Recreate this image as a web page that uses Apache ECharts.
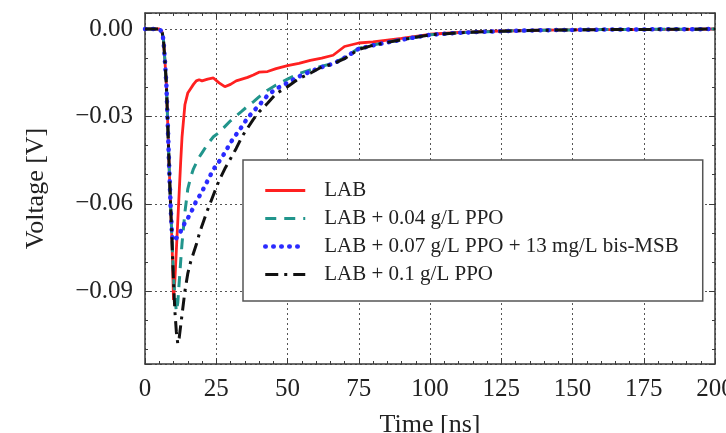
<!DOCTYPE html>
<html>
<head>
<meta charset="utf-8">
<script src="https://cdn.jsdelivr.net/npm/echarts@6/dist/echarts.min.js"></script>
<style>
html,body{margin:0;padding:0;background:#fff;}
#chart{width:726px;height:433px;}
</style>
</head>
<body>
<div id="chart"></div>
<script>
// Time axis (ns)
const timeNs = [0, 2, 4, 5, 6, 6.5, 7, 7.5, 8, 8.5, 9, 9.5, 10, 10.5, 11, 11.5, 12, 12.5, 13, 14,
  15, 16, 17, 18, 19, 20, 22, 24, 26, 28, 30, 32, 34, 36, 38, 40, 43, 46, 50, 54,
  58, 62, 66, 70, 75, 80, 85, 90, 95, 100, 110, 120, 130, 140, 150, 160, 170, 180, 190, 200];

// Voltage (V)
const labV = [0, 0, 0, 0, -0.001, -0.004, -0.011, -0.019, -0.033, -0.048,
  -0.061, -0.074, -0.093, -0.086, -0.076, -0.066, -0.056, -0.046, -0.037, -0.026,
  -0.022, -0.0205, -0.019, -0.0178, -0.0174, -0.0178, -0.0172, -0.0168, -0.0185, -0.0198,
  -0.019, -0.0178, -0.0172, -0.0166, -0.0158, -0.0148, -0.0146, -0.0136, -0.0126, -0.0118,
  -0.0108, -0.0100, -0.0090, -0.0060, -0.0048, -0.0044, -0.0038, -0.0032, -0.0025, -0.0018,
  -0.0012, -0.0008, -0.0006, -0.0004, -0.0003, -0.0002, -0.0002, -0.0001, -0.0001, 0];

const ppo004V = [0, 0, 0, 0, -0.001, -0.004, -0.011, -0.019, -0.033, -0.048,
  -0.061, -0.073, -0.085, -0.092, -0.097, -0.094, -0.087, -0.080, -0.0735, -0.063,
  -0.055, -0.051, -0.048, -0.046, -0.044, -0.0425, -0.0395, -0.037, -0.0355, -0.0335,
  -0.0315, -0.0298, -0.0282, -0.0265, -0.025, -0.0233, -0.021, -0.0192, -0.0172, -0.0153,
  -0.0140, -0.0128, -0.0118, -0.0098, -0.0066, -0.0055, -0.0045, -0.0037, -0.0028, -0.0020,
  -0.0013, -0.0009, -0.0006, -0.0004, -0.0003, -0.0002, -0.0002, -0.0001, -0.0001, 0];

const ppo007MsbV = [0, 0, 0, 0, -0.001, -0.004, -0.011, -0.019, -0.033, -0.048,
  -0.061, -0.071, -0.0728, -0.0725, -0.0718, -0.0712, -0.0705, -0.0695, -0.0685, -0.0665,
  -0.065, -0.0632, -0.0612, -0.059, -0.0575, -0.0558, -0.052, -0.0482, -0.0455, -0.0425,
  -0.039, -0.0362, -0.0335, -0.0305, -0.0283, -0.0262, -0.0228, -0.0205, -0.0185, -0.0163,
  -0.0146, -0.0131, -0.0119, -0.0099, -0.0068, -0.0056, -0.0046, -0.0037, -0.0028, -0.0020,
  -0.0013, -0.0009, -0.0006, -0.0004, -0.0003, -0.0002, -0.0002, -0.0001, -0.0001, 0];

const ppo01V = [0, 0, 0, 0, -0.001, -0.004, -0.011, -0.019, -0.033, -0.048,
  -0.061, -0.073, -0.087, -0.097, -0.104, -0.108, -0.106, -0.102, -0.098, -0.090,
  -0.084, -0.080, -0.077, -0.074, -0.0705, -0.0675, -0.062, -0.057, -0.052, -0.048,
  -0.0445, -0.041, -0.037, -0.034, -0.031, -0.0285, -0.0255, -0.0222, -0.0198, -0.017,
  -0.0152, -0.013, -0.012, -0.0102, -0.007, -0.0056, -0.0046, -0.0037, -0.0028, -0.002,
  -0.0013, -0.0009, -0.0006, -0.0004, -0.0003, -0.0002, -0.0002, -0.0001, -0.0001, 0];

const seriesNames = ['LAB', 'LAB + 0.04 g/L PPO', 'LAB + 0.07 g/L PPO + 13 mg/L bis-MSB', 'LAB + 0.1 g/L PPO'];
const xTicks = [0, 25, 50, 75, 100, 125, 150, 175, 200];
const yTicks = [0, -0.03, -0.06, -0.09];

const FONT = '"Liberation Serif", "DejaVu Serif", serif';
const TXT = '#222';
const FRAME = '#3a3a3a';

function pairs(vals) { return timeNs.map((t, i) => [t, vals[i]]); }

const gridLine = { show: true, lineStyle: { color: '#555', type: [2, 3], width: 1 } };
const frameLine = { show: true, onZero: false, lineStyle: { color: FRAME, width: 1.5 } };
const majTick = { show: true, inside: true, length: 6, lineStyle: { color: FRAME, width: 1 } };

function yFmt(v) {
  const r = Math.round(v / 0.03);
  if (Math.abs(v - r * 0.03) > 1e-6) return '';
  if (r === 0) return '0.00';
  return '\u2212' + Math.abs(r * 0.03).toFixed(2);
}

const chart = echarts.init(document.getElementById('chart'), null, { renderer: 'canvas' });
chart.setOption({
  backgroundColor: '#fff',
  animation: false,
  textStyle: { fontFamily: FONT },
  grid: { left: 145, right: 11, top: 13, bottom: 69, containLabel: false, outerBoundsMode: 'none' },
  xAxis: [{
    type: 'value', min: xTicks[0], max: xTicks[xTicks.length - 1], interval: 25,
    position: 'bottom',
    name: 'Time [ns]', nameLocation: 'middle', nameGap: 48,
    nameTextStyle: { fontFamily: FONT, fontSize: 26, color: TXT },
    axisLine: frameLine, axisTick: majTick,
    minorTick: { show: true, splitNumber: 5, length: 3, lineStyle: { color: FRAME } },
    axisLabel: { fontFamily: FONT, fontSize: 25, color: TXT, margin: 13 },
    splitLine: gridLine
  }, {
    type: 'value', min: 0, max: 200, interval: 25, position: 'top',
    axisLine: frameLine, axisTick: majTick,
    minorTick: { show: true, splitNumber: 5, length: 3, lineStyle: { color: FRAME } },
    axisLabel: { show: false }, splitLine: { show: false }
  }],
  yAxis: [{
    type: 'value', min: -0.115, max: 0.0055, minInterval: 0.03, maxInterval: 0.03,
    position: 'left',
    name: 'Voltage [V]', nameLocation: 'middle', nameGap: 96, nameRotate: 90,
    nameTextStyle: { fontFamily: FONT, fontSize: 26, color: TXT },
    axisLine: frameLine, axisTick: majTick,
    minorTick: { show: true, splitNumber: 3, length: 3, lineStyle: { color: FRAME } },
    axisLabel: { fontFamily: FONT, fontSize: 25, color: TXT, margin: 12, showMinLabel: false, showMaxLabel: false, formatter: yFmt },
    splitLine: gridLine
  }, {
    type: 'value', min: -0.115, max: 0.0055, minInterval: 0.03, maxInterval: 0.03,
    position: 'right',
    axisLine: frameLine, axisTick: majTick,
    minorTick: { show: true, splitNumber: 3, length: 3, lineStyle: { color: FRAME } },
    axisLabel: { show: false }, splitLine: { show: false }
  }],
  legend: {
    orient: 'vertical', left: 243, top: 160,
    padding: [20, 24, 16, 20],
    itemWidth: 40, itemHeight: 14, itemGap: 7,
    itemStyle: { opacity: 0 },
    lineStyle: { width: 'inherit' },
    backgroundColor: '#fff', borderColor: '#555', borderWidth: 1.5, borderRadius: 0,
    textStyle: { fontFamily: FONT, fontSize: 21, color: TXT, padding: [0, 0, 0, 14] },
    data: seriesNames
  },
  series: [
    { name: seriesNames[0], type: 'line', data: pairs(labV), symbol: 'none', showSymbol: false,
      lineStyle: { color: '#ff2020', width: 2.8, type: 'solid' }, itemStyle: { color: '#ff2020' } },
    { name: seriesNames[1], type: 'line', data: pairs(ppo004V), symbol: 'none', showSymbol: false,
      lineStyle: { color: '#21958c', width: 3, type: [11, 8] }, itemStyle: { color: '#21958c' } },
    { name: seriesNames[2], type: 'line', data: pairs(ppo007MsbV), symbol: 'none', showSymbol: false,
      lineStyle: { color: '#2a2aff', width: 4.5, type: [0.5, 7.5], cap: 'round' }, itemStyle: { color: '#2a2aff' } },
    { name: seriesNames[3], type: 'line', data: pairs(ppo01V), symbol: 'none', showSymbol: false,
      lineStyle: { color: '#111', width: 3, type: [13, 6, 3, 6] }, itemStyle: { color: '#111' } }
  ]
});
</script>
</body>
</html>
